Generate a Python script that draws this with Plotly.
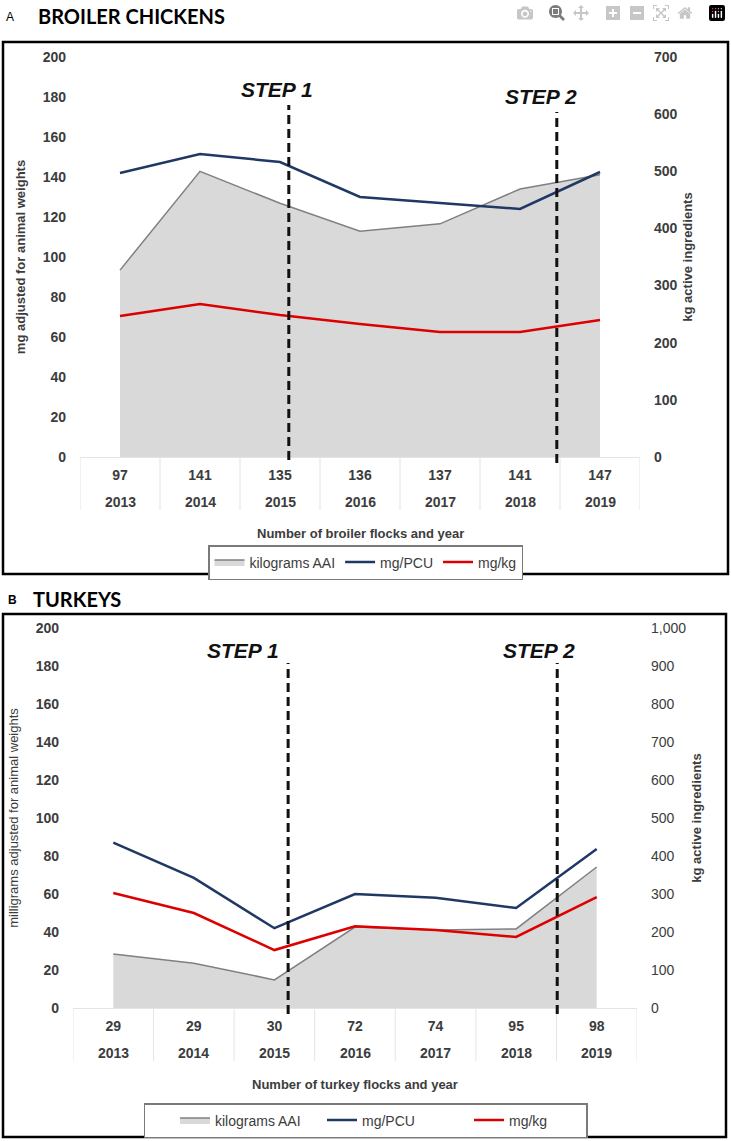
import plotly.graph_objects as go

W, H = 731, 1141

years = ['2013', '2014', '2015', '2016', '2017', '2018', '2019']

broiler_flocks = ['97', '141', '135', '136', '137', '141', '147']
broiler_kg_aai = [327, 500, 444, 395, 408, 469, 494]
broiler_mg_pcu = [142, 151.5, 147.5, 130, 127, 124, 142.5]
broiler_mg_kg = [70.5, 76.5, 71, 66.5, 62.5, 62.5, 68.5]
broiler_steps = [2.11, 5.46]

turkey_flocks = ['29', '29', '30', '72', '74', '95', '98']
turkey_kg_aai = [142, 118, 74, 213, 205, 208, 371]
turkey_mg_pcu = [87, 68.5, 42, 60, 58, 52.6, 83.7]
turkey_mg_kg = [60.5, 50, 30.5, 43, 41, 37.4, 58.4]
turkey_steps = [2.17, 5.51]

FONT = 'Liberation Sans, Arial, sans-serif'
TXT = '#3c3c3c'
NAVY = '#203864'
RED = '#dd0000'
AREA = '#d9d9d9'
AREA_LINE = '#808080'


def px(x):
    return x / W


def py(y):
    return 1 - y / H


idx = list(range(len(years)))

fig = go.Figure()


def add_panel(kg, pcu, mgkg, xa, y_kg, y_mg, legend):
    fig.add_trace(go.Scatter(
        x=idx, y=kg, xaxis=xa, yaxis=y_kg, name='kilograms AAI',
        mode='lines', fill='tozeroy', fillcolor=AREA,
        line=dict(color=AREA_LINE, width=1.5), legend=legend,
    ))
    fig.add_trace(go.Scatter(
        x=idx, y=pcu, xaxis=xa, yaxis=y_mg, name='mg/PCU',
        mode='lines', line=dict(color=NAVY, width=2.5), legend=legend,
    ))
    fig.add_trace(go.Scatter(
        x=idx, y=mgkg, xaxis=xa, yaxis=y_mg, name='mg/kg',
        mode='lines', line=dict(color=RED, width=2.5), legend=legend,
    ))


add_panel(broiler_kg_aai, broiler_mg_pcu, broiler_mg_kg, 'x', 'y', 'y2', 'legend')
add_panel(turkey_kg_aai, turkey_mg_pcu, turkey_mg_kg, 'x2', 'y3', 'y4', 'legend2')

bold_tick = dict(family=FONT, size=14, color=TXT, weight='bold')
reg_tick = dict(family=FONT, size=14, color=TXT)
title_bold = dict(family=FONT, size=13, color=TXT, weight='bold')


def yax(domain, rng, dtick, side, title, title_font, tickfont, standoff, overlay=None, anchor='x', fmt=None):
    d = dict(
        domain=domain, range=rng, dtick=dtick, side=side, anchor=anchor,
        showgrid=False, zeroline=False, showline=False, ticks='', automargin=False,
        ticklabelstandoff=13, tickfont=tickfont,
        title=dict(text=title, font=title_font, standoff=standoff),
    )
    if overlay:
        d['overlaying'] = overlay
        d.pop('domain')
    if fmt:
        d['tickformat'] = fmt
    return d


def xax(domain, labels, anchor):
    return dict(
        domain=domain, anchor=anchor, range=[-0.5, 6.5],
        tickvals=idx, ticktext=labels, ticks='', automargin=False,
        showgrid=False, zeroline=False, showline=True, linecolor='#e4e4e4', linewidth=1,
        tickfont=bold_tick, ticklabelstandoff=5,
    )


top_y = [py(457), py(57)]
bot_y = [py(1008), py(628)]

fig.update_layout(
    width=W, height=H,
    margin=dict(l=0, r=0, t=0, b=0, autoexpand=False),
    paper_bgcolor='white', plot_bgcolor='white',
    font=dict(family=FONT, color=TXT),
    xaxis=xax([px(80), px(640)], broiler_flocks, 'y'),
    xaxis2=xax([px(73), px(637)], turkey_flocks, 'y3'),
    yaxis=yax(top_y, [0, 700], 100, 'right', 'kg active ingredients', title_bold, bold_tick, 6),
    yaxis2=yax(top_y, [0, 200], 20, 'left', 'mg adjusted for animal weights',
               title_bold, bold_tick, 14, overlay='y'),
    yaxis3=yax(bot_y, [0, 1000], 100, 'right', 'kg active ingredients',
               title_bold, reg_tick, 6, anchor='x2', fmt=',d'),
    yaxis4=yax(bot_y, [0, 200], 20, 'left', 'milligrams adjusted for animal weights',
               dict(family=FONT, size=13, color=TXT), bold_tick, 14, overlay='y3', anchor='x2'),
    legend=dict(
        orientation='h', x=0.5, xanchor='center', y=py(545), yanchor='top',
        bordercolor='#7a7a7a', borderwidth=1.5, font=dict(family=FONT, size=14, color=TXT),
        traceorder='normal',
    ),
    legend2=dict(
        orientation='h', x=0.5, xanchor='center', y=py(1103), yanchor='top',
        bordercolor='#7a7a7a', borderwidth=1.5, font=dict(family=FONT, size=14, color=TXT),
        traceorder='normal', entrywidth=72, indentation=30,
    ),
    showlegend=True,
)

shapes = []
# panel frames
shapes.append(dict(type='rect', xref='paper', yref='paper', x0=px(3), x1=px(728), y0=py(42), y1=py(574),
                   line=dict(color='black', width=2.5)))
shapes.append(dict(type='rect', xref='paper', yref='paper', x0=px(3), x1=px(726), y0=py(614), y1=py(1137),
                   line=dict(color='black', width=2.5)))
# category table separators
for xr, y0, y1 in [('x', 457, 510), ('x2', 1008, 1061)]:
    for i in range(len(years) + 1):
        shapes.append(dict(type='line', xref=xr, yref='paper', x0=i - 0.5, x1=i - 0.5,
                           y0=py(y0), y1=py(y1), line=dict(color='#e4e4e4', width=1), layer='below'))
# step lines (vertical extent in page pixels)
for xr, steps, spans in [('x', broiler_steps, [(105, 460), (112, 463)]),
                         ('x2', turkey_steps, [(663, 1014), (663, 1014)])]:
    for s, (top, bot) in zip(steps, spans):
        shapes.append(dict(type='line', xref=xr, yref='paper', x0=s, x1=s, y0=py(bot), y1=py(top),
                           line=dict(color='#111111', width=3, dash='9px,5px')))
fig.update_layout(shapes=shapes)

step_font = dict(family=FONT, size=21, color='#111111', weight='bold', style='italic')
head_font = dict(family='Lato, ' + FONT, size=20, color='black', weight='bold')


def note(text, x, y, font, xref='paper', yref='paper', xanchor='center'):
    return dict(text=text, xref=xref, yref=yref, x=x, y=y, xanchor=xanchor, yanchor='middle',
                showarrow=False, font=font)


annotations = [
    note('A', px(10), py(17), dict(family=FONT, size=12, color='black')),
    note('BROILER CHICKENS', px(36), py(16), head_font, xanchor='left'),
    note('B', px(12), py(600), dict(family=FONT, size=12, color='black', weight='bold')),
    note('TURKEYS', px(31), py(599), head_font, xanchor='left'),
    note('STEP 1', 1.96, 183.5, step_font, 'x', 'y2'),
    note('STEP 2', 5.26, 180, step_font, 'x', 'y2'),
    note('STEP 1', 1.61, 188, step_font, 'x2', 'y4'),
    note('STEP 2', 5.28, 188, step_font, 'x2', 'y4'),
    note('Number of broiler flocks and year', 3, py(533), title_bold, 'x'),
    note('Number of turkey flocks and year', 3, py(1084), title_bold, 'x2'),
]
# second row of the category axis: years
for xr, yrow in [('x', 502), ('x2', 1053)]:
    for i, yr in enumerate(years):
        annotations.append(note(yr, i, py(yrow), bold_tick, xr))
fig.update_layout(annotations=annotations)

fig.write_html('out.html', post_script="document.body.style.margin='0px';")
